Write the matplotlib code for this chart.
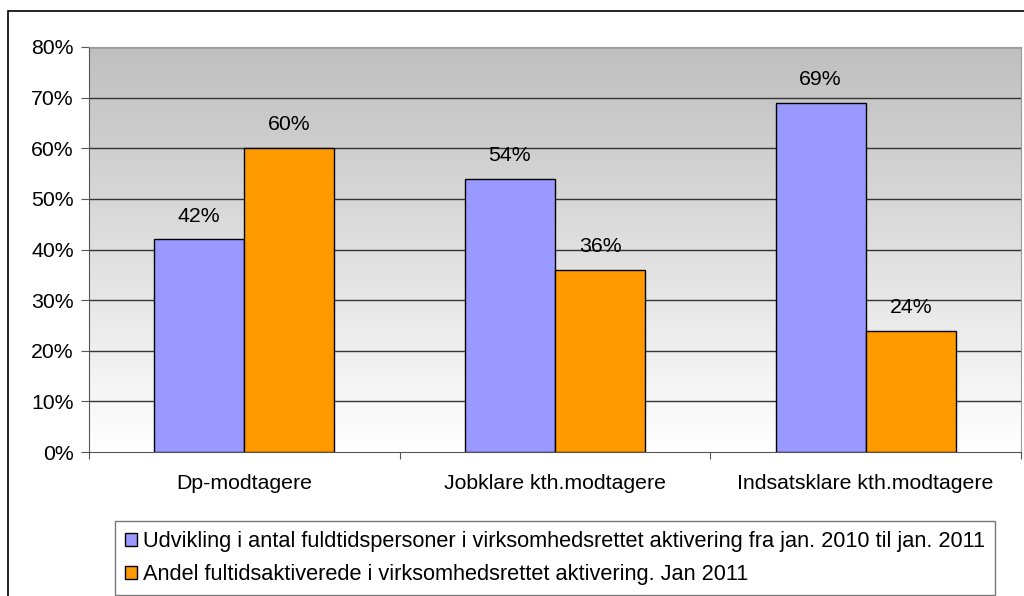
import numpy as np
import matplotlib.pyplot as plt
from matplotlib.patches import Rectangle
from matplotlib.colors import LinearSegmentedColormap

plt.rcParams['font.family'] = ['Liberation Sans', 'DejaVu Sans']

categories = ['Dp-modtagere', 'Jobklare kth.modtagere', 'Indsatsklare kth.modtagere']
udvikling = [42, 54, 69]
andel = [60, 36, 24]
series_labels = [
    'Udvikling i antal fuldtidspersoner i virksomhedsrettet aktivering fra jan. 2010 til jan. 2011',
    'Andel fultidsaktiverede i virksomhedsrettet aktivering. Jan 2011',
]
yticks = [0, 10, 20, 30, 40, 50, 60, 70, 80]

FS = 15.3
W, H = 1024, 596
fig = plt.figure(figsize=(W / 100, H / 100), dpi=100)

# outer chart border
fig.patches.append(Rectangle((8 / W, -0.01), 1.2, (H - 11) / H + 0.01, transform=fig.transFigure,
                             fill=False, edgecolor='black', linewidth=1.2))

ax = fig.add_axes([89 / W, 1 - 452 / H, (1021 - 89) / W, (452 - 47) / H])

# gray-to-white gradient background
grad = np.linspace(0, 1, 256).reshape(-1, 1)
ax.imshow(grad, cmap=LinearSegmentedColormap.from_list('g', ['#ffffff', '#bfbfbf']),
          extent=[-0.5, 2.5, 0, 80], aspect='auto', origin='lower', zorder=0)

x = np.arange(len(categories))
w = 0.29
b1 = ax.bar(x - w / 2, udvikling, w, color='#9999ff', edgecolor='black', linewidth=1, zorder=3,
            label=series_labels[0])
b2 = ax.bar(x + w / 2, andel, w, color='#ff9900', edgecolor='black', linewidth=1, zorder=3,
            label=series_labels[1])

for bars, vals in ((b1, udvikling), (b2, andel)):
    for r, v in zip(bars, vals):
        ax.text(r.get_x() + r.get_width() / 2, v + 4.6, f'{v}%', ha='center', va='center', fontsize=FS)

ax.set_xlim(-0.5, 2.5)
ax.set_ylim(0, 80)
ax.set_yticks(yticks)
ax.set_yticklabels([f'{t}%' for t in yticks], fontsize=FS)
for t in yticks[1:]:
    ax.axhline(t, color='#333333', linewidth=1, zorder=1)

ax.set_xticks([-0.5, 0.5, 1.5, 2.5], minor=False)
ax.set_xticklabels([])
ax.set_xticks(x, minor=True)
ax.set_xticklabels(categories, minor=True, fontsize=FS)
ax.tick_params(axis='x', which='minor', length=0, pad=16)
ax.tick_params(axis='x', which='major', length=5, direction='out', color='#555555')
ax.tick_params(axis='y', length=6, direction='out', color='#555555', pad=5)

for s in ['top', 'right']:
    ax.spines[s].set_color('#999999')
ax.spines['left'].set_color('#555555')
ax.spines['bottom'].set_color('#555555')

leg = fig.legend(handles=[b1, b2], loc='upper left', bbox_to_anchor=(115 / W, 1 - 521 / H),
                 fontsize=15.7, frameon=True, fancybox=False, edgecolor='#555555',
                 handlelength=0.55, handleheight=0.55, handletextpad=0.3, labelspacing=0.55,
                 borderpad=0.45, borderaxespad=0)
leg.get_frame().set_linewidth(1)

fig.savefig('out.png', dpi=100)
